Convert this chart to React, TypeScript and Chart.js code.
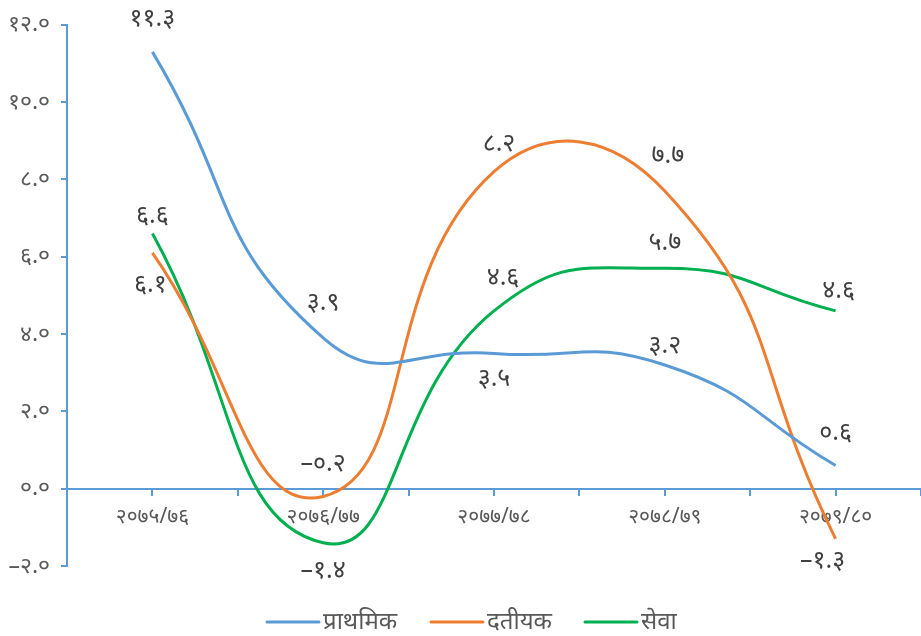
import React, { useEffect, useRef } from "react";
import { Chart, registerables } from "chart.js";

Chart.register(...registerables);

const categories = ["२०७५/७६", "२०७६/७७", "२०७७/७८", "२०७८/७९", "२०७९/८०"];
const seriesNames = ["प्राथमिक", "दतीयक", "सेवा"];
const primary = [11.3, 3.9, 3.5, 3.2, 0.6];
const secondary = [6.1, -0.2, 8.2, 7.7, -1.3];
const service = [6.6, -1.4, 4.6, 5.7, 4.6];
const yTicks = [-2, 0, 2, 4, 6, 8, 10, 12];

const colors = ["#5B9BD5", "#ED7D31", "#00B050"];
// label offsets (px) relative to each point, per series
const labelOffsets = [
  [[0, -33], [0, -35], [0, 25], [0, -19], [0, -33]],
  [[-2, 32], [0, -33], [5, -28], [3, -35], [-13, 22]],
  [[0, -18], [0, 28], [9, -33], [0, -25], [3, -20]],
];

const devDigits = ["०", "१", "२", "३", "४", "५", "६", "७", "८", "९"];
const toDev = (s: string) => s.replace(/[0-9]/g, (d) => devDigits[+d]);
const fmt = (v: number) => (v < 0 ? "–" : "") + toDev(Math.abs(v).toFixed(1));

const FONT = "'Noto Sans', 'Noto Sans Devanagari', sans-serif";

export default function App() {
  const ref = useRef<HTMLCanvasElement>(null);
  useEffect(() => {
    document.body.style.margin = "0";
    const series = [primary, secondary, service];
    const labelPlugin = {
      id: "labelsAndLegend",
      afterDatasetsDraw(chart: any) {
        const ctx = chart.ctx;
        ctx.save();
        ctx.font = `25px ${FONT}`;
        ctx.fillStyle = "#404040";
        ctx.textAlign = "center";
        ctx.textBaseline = "middle";
        chart.data.datasets.forEach((ds: any, di: number) => {
          const meta = chart.getDatasetMeta(di);
          meta.data.forEach((pt: any, i: number) => {
            const [dx, dy] = labelOffsets[di][i];
            ctx.fillText(fmt(series[di][i]), pt.x + dx, pt.y + dy);
          });
        });
        // legend
        ctx.font = `24px ${FONT}`;
        ctx.fillStyle = "#595959";
        ctx.textAlign = "left";
        const legendY = 622;
        const starts = [267, 431, 585];
        seriesNames.forEach((name, i) => {
          ctx.strokeStyle = colors[i];
          ctx.lineWidth = 3;
          ctx.lineCap = "round";
          ctx.beginPath();
          ctx.moveTo(starts[i], legendY);
          ctx.lineTo(starts[i] + 52, legendY);
          ctx.stroke();
          ctx.fillText(name, starts[i] + 56, legendY);
        });
        ctx.restore();
      },
    };
    const chart = new Chart(ref.current!, {
      type: "line",
      data: {
        datasets: series.map((s, i) => ({
          label: seriesNames[i],
          data: s.map((v, j) => ({ x: j, y: v })),
          borderColor: colors[i],
          backgroundColor: colors[i],
          borderWidth: 3,
          pointRadius: 0,
          tension: 0.5,
          fill: false,
        })),
      },
      options: {
        animation: false,
        responsive: false,
        maintainAspectRatio: false,
        layout: { padding: { left: 0, right: 0, top: 23, bottom: 70 } },
        plugins: { legend: { display: false }, tooltip: { enabled: false } },
        scales: {
          x: {
            type: "linear",
            position: { y: 0 } as any,
            min: -0.5,
            max: 4.5,
            afterBuildTicks: (scale: any) => {
              const t = [];
              for (let v = -0.5; v <= 4.5001; v += 0.5) t.push({ value: v });
              scale.ticks = t;
            },
            afterFit: (scale: any) => {
              scale.paddingLeft = 0;
              scale.paddingRight = 0;
            },
            ticks: {
              autoSkip: false,
              maxRotation: 0,
              padding: 10,
              color: "#595959",
              font: { family: FONT, size: 21 },
              callback: (v: any) => {
                const n = Number(v);
                return Number.isInteger(n) && n >= 0 && n < categories.length ? categories[n] : "";
              },
            },
            grid: { drawOnChartArea: false, color: "#5B9BD5", lineWidth: 2, tickLength: 6 },
            border: { color: "#5B9BD5", width: 2 },
          },
          y: {
            min: -2,
            max: 12,
            afterBuildTicks: (scale: any) => {
              scale.ticks = yTicks.map((v) => ({ value: v }));
            },
            afterFit: (scale: any) => {
              scale.width = 67;
            },
            ticks: {
              padding: 11,
              color: "#595959",
              font: { family: FONT, size: 23 },
              callback: (v: any) => fmt(Number(v)),
            },
            grid: { drawOnChartArea: false, color: "#5B9BD5", lineWidth: 2, tickLength: 6 },
            border: { color: "#5B9BD5", width: 2 },
          },
        },
      },
      plugins: [labelPlugin],
    });
    return () => chart.destroy();
  }, []);
  return (
    <div style={{ position: "fixed", left: 0, top: 0, width: 921, height: 636, background: "#fff" }}>
      <canvas ref={ref} width={921} height={636} style={{ width: 921, height: 636 }} />
    </div>
  );
}
